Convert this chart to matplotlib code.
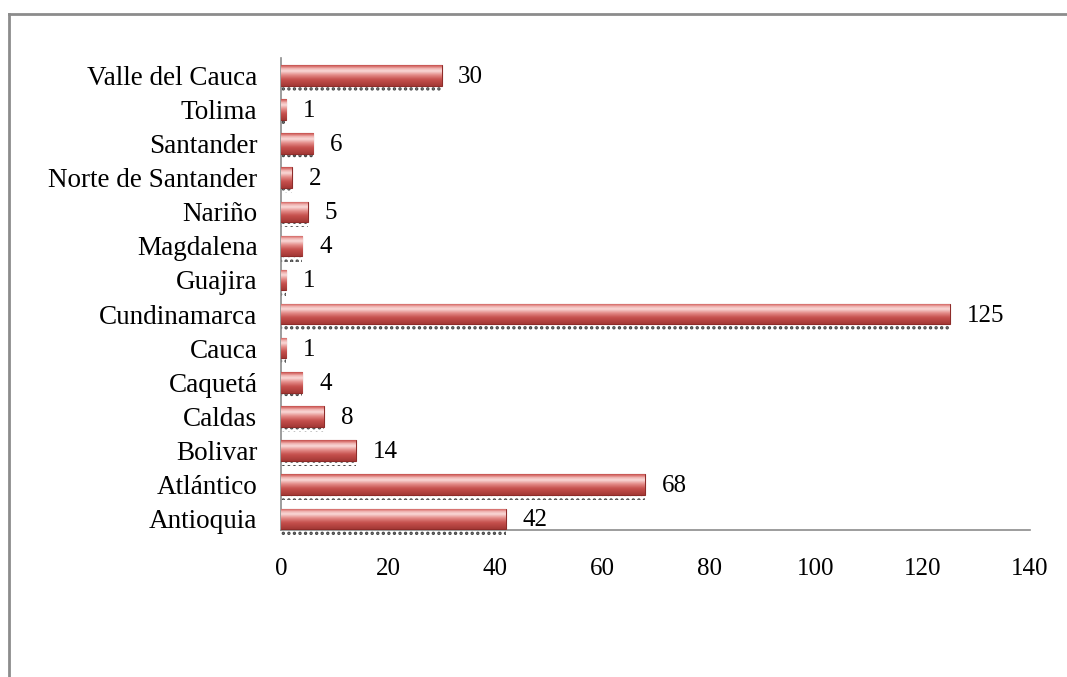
import numpy as np
import matplotlib.pyplot as plt
from matplotlib.lines import Line2D
from matplotlib.colors import LinearSegmentedColormap

departamentos = ["Antioquia", "Atlántico", "Bolivar", "Caldas", "Caquetá", "Cauca",
                 "Cundinamarca", "Guajira", "Magdalena", "Nariño",
                 "Norte de Santander", "Santander", "Tolima", "Valle del Cauca"]
valores = [42, 68, 14, 8, 4, 1, 125, 1, 4, 5, 2, 6, 1, 30]
xticks = [0, 20, 40, 60, 80, 100, 120, 140]

plt.rcParams["font.family"] = ["Liberation Serif", "DejaVu Serif"]
plt.rcParams["hatch.color"] = "#333333"
plt.rcParams["hatch.linewidth"] = 1.6

fig = plt.figure(figsize=(10.67, 6.77), dpi=100)
ax = fig.add_axes([0.2634, 0.217, 0.702, 0.697])

y = np.arange(len(departamentos))
h = 0.6

# dotted shadow under each bar
shadow = ax.barh(y - h / 2 - 0.06, valores, height=0.2, left=0, facecolor="none",
                 edgecolor="#444444", linewidth=0, hatch="...", zorder=1)
for p in shadow:
    p.set_clip_on(False)

# gradient fill for the bars (bottom -> top)
stops = np.interp(np.linspace(0, 1, 64), [0.0, 0.35, 0.72, 0.85, 1.0],
                  [0.05, 0.4, 0.95, 0.8, 0.35])
cmap = LinearSegmentedColormap.from_list(
    "r", ["#9E3532", "#C44E4B", "#E48C89", "#FDE6E5"])
bars = ax.barh(y, valores, height=h, color="#D46A67", edgecolor="#8E2C2A",
               linewidth=0.8, zorder=3)
for b in bars:
    x0, y0 = b.get_x(), b.get_y()
    w, hh = b.get_width(), b.get_height()
    im = ax.imshow(stops[:, None], cmap=cmap, vmin=0, vmax=1, aspect="auto",
                   extent=[x0, x0 + w, y0, y0 + hh], origin="lower",
                   interpolation="bilinear", zorder=3.5)
    im.set_clip_path(b)

for yi, v in zip(y, valores):
    ax.annotate(str(v), (v, yi), xytext=(12, -1), textcoords="offset points",
                va="center", ha="left", fontsize=18)

ax.set_xlim(0, 140)
ax.set_ylim(-0.33, 13.5)
ax.set_xticks(xticks)
ax.set_yticks(y)
ax.set_yticklabels(departamentos, fontsize=19.5)
ax.tick_params(axis="both", length=0)
ax.tick_params(axis="x", labelsize=18, pad=20)
ax.tick_params(axis="y", pad=17)
for s in ["top", "right"]:
    ax.spines[s].set_visible(False)
for s in ["left", "bottom"]:
    ax.spines[s].set_color("#8C8C8C")
    ax.spines[s].set_linewidth(1.2)

# chart area border (only left and top visible in the crop)
fig.add_artist(Line2D([9 / 1067, 9 / 1067], [0, 1 - 14 / 677], color="#8C8C8C",
                      lw=2, transform=fig.transFigure))
fig.add_artist(Line2D([9 / 1067, 1], [1 - 14 / 677, 1 - 14 / 677], color="#8C8C8C",
                      lw=2, transform=fig.transFigure))

fig.savefig("out.png", dpi=100)
